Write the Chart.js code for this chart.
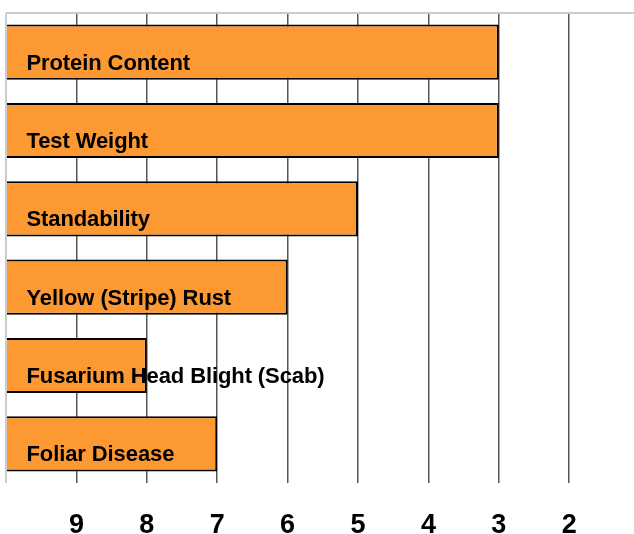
<!DOCTYPE html>
<html>
<head>
<meta charset="utf-8">
<script src="https://cdn.jsdelivr.net/npm/chart.js@4.4.1/dist/chart.umd.min.js"></script>
<style>
    html, body { margin: 0; padding: 0; background: #fff; }
    #chart { display: block; }
</style>
</head>
<body>
<canvas id="chart" width="634" height="534"></canvas>
<script>
    const categories = [
        "Protein Content",
        "Test Weight",
        "Standability",
        "Yellow (Stripe) Rust",
        "Fusarium Head Blight (Scab)",
        "Foliar Disease"
    ];
    const ratings = [3, 3, 5, 6, 8, 7];
    const tickValues = [2, 3, 4, 5, 6, 7, 8, 9, 10];
    const tickLabels = ["2", "3", "4", "5", "6", "7", "8", "9", ""];
    const scaleMin = 1.08;
    const scaleMax = 10;

    const FONT = "'Liberation Sans', Arial, sans-serif";

    // light frame along the top of the plot
    const framePlugin = {
        id: "frame",
        beforeDatasetsDraw(chart) {
            const { ctx, chartArea } = chart;
            ctx.save();
            ctx.strokeStyle = "#cccccc";
            ctx.lineWidth = 2;
            ctx.beginPath();
            ctx.moveTo(chartArea.left, chartArea.top);
            ctx.lineTo(chartArea.right, chartArea.top);
            ctx.stroke();
            ctx.restore();
        }
    };

    // category names written inside the bars
    const barLabelPlugin = {
        id: "barLabels",
        afterDatasetsDraw(chart) {
            const { ctx, chartArea } = chart;
            const yScale = chart.scales.y;
            ctx.save();
            ctx.font = "bold 22px " + FONT;
            ctx.letterSpacing = "-0.1px";
            ctx.fillStyle = "#000";
            ctx.textAlign = "left";
            ctx.textBaseline = "alphabetic";
            chart.data.labels.forEach((label, i) => {
                const y = yScale.getPixelForValue(i);
                ctx.fillText(label, chartArea.left + 20.5, y + 17.5);
            });
            ctx.restore();
        }
    };

    new Chart(document.getElementById("chart"), {
        type: "bar",
        data: {
            labels: categories,
            datasets: [
                {
                    data: ratings,
                    base: scaleMax,
                    backgroundColor: "#fd9933",
                    borderColor: "#000",
                    borderWidth: 2,
                    categoryPercentage: 1,
                    barPercentage: 0.705
                }
            ]
        },
        options: {
            indexAxis: "y",
            responsive: false,
            animation: false,
            layout: { padding: { top: 13, left: 6, right: 0, bottom: 0 } },
            plugins: {
                legend: { display: false },
                tooltip: { enabled: false }
            },
            scales: {
                x: {
                    type: "linear",
                    reverse: true,
                    min: scaleMin,
                    max: scaleMax,
                    afterBuildTicks(scale) {
                        scale.ticks = tickValues.map((value) => ({ value }));
                    },
                    afterFit(scale) {
                        scale.height = 51;
                    },
                    border: { display: false },
                    grid: {
                        drawTicks: false,
                        lineWidth: (ctx) => (ctx.tick && ctx.tick.value === scaleMax ? 2 : 1.5),
                        color: (ctx) => (ctx.tick && ctx.tick.value === scaleMax ? "#cccccc" : "#555555")
                    },
                    ticks: {
                        padding: 26,
                        maxRotation: 0,
                        autoSkip: false,
                        color: "#000",
                        font: { family: FONT, size: 27, weight: "bold" },
                        callback: (value) => tickLabels[tickValues.indexOf(value)]
                    }
                },
                y: {
                    display: false
                }
            }
        },
        plugins: [framePlugin, barLabelPlugin]
    });
</script>
</body>
</html>
